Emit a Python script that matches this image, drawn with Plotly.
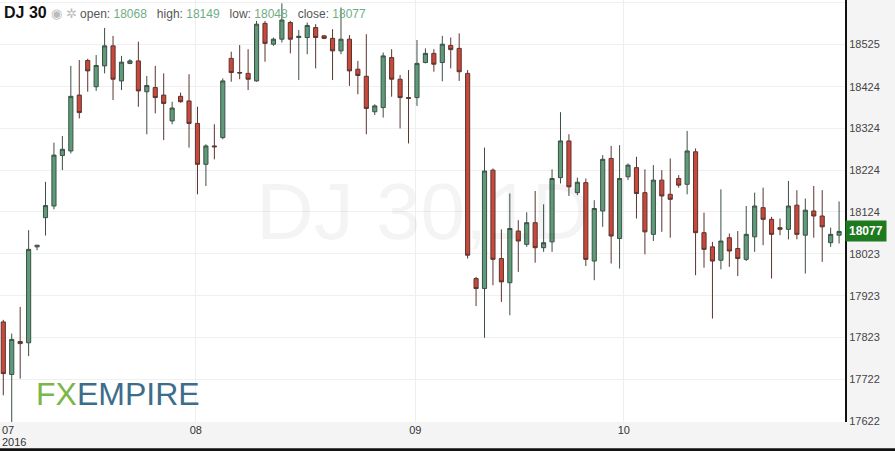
import plotly.graph_objects as go

# DJ 30 candles
opens = [17860, 17734, 17813, 17810, 18040, 18110, 18138, 18259, 18270, 18404,
         18487, 18424, 18474, 18522, 18438, 18480, 18486, 18412, 18422, 18404,
         18342, 18401, 18390, 18336, 18238, 18282, 18302, 18492, 18458, 18456,
         18438, 18576, 18526, 18538, 18578, 18542, 18542, 18566, 18546, 18540,
         18510, 18538, 18466, 18449, 18364, 18374, 18494, 18442, 18398, 18398,
         18482, 18504, 18482, 18523, 18516, 18456, 17964, 17940, 18224, 18012,
         17954, 18078, 18046, 18098, 18038, 18052, 18206, 18294, 18170, 18194,
         18006, 18126, 18252, 18060, 18208, 18230, 18170, 18070, 18200, 18166,
         18204, 18190, 18268, 18074, 18040, 18008, 18062, 18036, 18010, 18064,
         18134, 18106, 18086, 18082, 18140, 18068, 18126, 18114, 18050, 18068]
highs = [17865, 17832, 17896, 18080, 18044, 18196, 18290, 18306, 18474, 18488,
         18491, 18500, 18565, 18546, 18498, 18490, 18532, 18450, 18474, 18456,
         18388, 18410, 18454, 18376, 18286, 18334, 18444, 18508, 18524, 18514,
         18582, 18582, 18542, 18624, 18582, 18560, 18578, 18574, 18548, 18562,
         18614, 18548, 18486, 18550, 18382, 18506, 18514, 18452, 18464, 18536,
         18516, 18514, 18546, 18542, 18552, 18464, 17968, 18278, 18228, 18082,
         18168, 18104, 18123, 18174, 18142, 18226, 18363, 18310, 18206, 18204,
         18152, 18260, 18282, 18284, 18240, 18256, 18226, 18236, 18224, 18252,
         18212, 18318, 18276, 18122, 18052, 18178, 18072, 18078, 18138, 18170,
         18182, 18112, 18108, 18198, 18176, 18156, 18186, 18176, 18086, 18149]
lows = [17684, 17620, 17724, 17778, 18032, 18067, 18130, 18224, 18264, 18348,
        18412, 18414, 18456, 18392, 18416, 18478, 18376, 18310, 18360, 18296,
        18334, 18386, 18278, 18166, 18186, 18250, 18298, 18436, 18442, 18416,
        18436, 18484, 18522, 18530, 18504, 18440, 18502, 18468, 18538, 18440,
        18502, 18426, 18406, 18310, 18356, 18350, 18400, 18324, 18288, 18378,
        18480, 18460, 18437, 18468, 18438, 18012, 17898, 17822, 17948, 17908,
        17876, 17980, 18040, 18002, 18028, 18028, 18192, 18162, 18164, 17994,
        17960, 18088, 18000, 17988, 18200, 18108, 18022, 18054, 18076, 18062,
        18182, 18166, 17972, 17990, 17868, 17986, 17992, 17970, 18006, 18028,
        18044, 17964, 18068, 18058, 18058, 17976, 18062, 18004, 18040, 18048]
closes = [17736, 17818, 17808, 18034, 18044, 18139, 18260, 18274, 18401, 18362,
          18462, 18475, 18522, 18442, 18483, 18486, 18414, 18427, 18398, 18384,
          18373, 18388, 18336, 18238, 18282, 18280, 18438, 18458, 18457, 18442,
          18574, 18528, 18538, 18584, 18538, 18545, 18571, 18542, 18540, 18510,
          18538, 18462, 18451, 18372, 18378, 18498, 18442, 18398, 18396, 18480,
          18504, 18478, 18526, 18513, 18460, 18020, 17940, 18222, 18010, 17956,
          18084, 18054, 18098, 18038, 18050, 18204, 18294, 18184, 18195, 18010,
          18132, 18250, 18066, 18204, 18236, 18168, 18076, 18200, 18162, 18154,
          18188, 18270, 18074, 18034, 18006, 18054, 18030, 18012, 18070, 18138,
          18106, 18070, 18082, 18138, 18070, 18128, 18114, 18088, 18070, 18077]

y_ticks = [17622, 17722, 17823, 17923, 18023, 18124, 18224, 18324, 18424, 18525, 18625]
x_tick_pos = [22.8, 48.8, 73.5]
x_tick_text = ["08", "09", "10"]

x = list(range(len(opens)))

fig = go.Figure(go.Candlestick(
    x=x, open=opens, high=highs, low=lows, close=closes,
    increasing=dict(fillcolor="#5e9b7a", line=dict(color="#3d4f45", width=1)),
    decreasing=dict(fillcolor="#c9483a", line=dict(color="#5a3530", width=1)),
    whiskerwidth=0, showlegend=False, hoverinfo="skip"))

fig.update_layout(
    width=895, height=451,
    margin=dict(l=0, r=50, t=0, b=29),
    paper_bgcolor="#f4f4f4", plot_bgcolor="white",
    font=dict(family="Arial, Liberation Sans, sans-serif", color="#333", size=11),
    xaxis=dict(range=[-0.39, 99.7], rangeslider=dict(visible=False), automargin=False,
               tickvals=x_tick_pos, ticktext=x_tick_text, ticks="",
               showgrid=True, gridcolor="#eeeeee", zeroline=False),
    yaxis=dict(range=[17620, 18632], side="right", tickvals=y_ticks, tickformat="d",
               automargin=False,
               showgrid=True, gridcolor="#f0f0f0", zeroline=False, ticks="",
               showline=True, linecolor="#111", linewidth=2,
               tickfont=dict(size=11, color="#444")),
)

# first date label (two lines)
fig.add_annotation(xref="paper", yref="paper", x=0.0, y=0, yshift=0, xanchor="left", yanchor="top",
                   showarrow=False, text="07", font=dict(size=11, color="#333"))
fig.add_annotation(xref="paper", yref="paper", x=0.0, y=0, yshift=-12, xanchor="left", yanchor="top",
                   showarrow=False, text="2016", font=dict(size=11, color="#333"))

# bottom border
fig.add_shape(type="line", xref="paper", yref="paper", x0=0, x1=1.06, y0=-0.066, y1=-0.066,
              line=dict(color="#111", width=3))

# watermark
fig.add_annotation(xref="paper", yref="paper", x=0.5, y=0.5, text="DJ 30,1D",
                   showarrow=False, font=dict(size=80, color="rgba(0,0,0,0.045)"))

# header
fig.add_annotation(xref="paper", yref="paper", x=0.002, y=0.995, xanchor="left", yanchor="top",
                   showarrow=False,
                   text="<b>DJ 30</b> <span style='color:#bbb;font-size:13px'>◉ ✲</span>"
                        "<span style='font-size:12px;color:#555'> open: <span style='color:#6fae85'>18068</span>"
                        "   high: <span style='color:#6fae85'>18149</span>"
                        "   low: <span style='color:#6fae85'>18048</span>"
                        "   close: <span style='color:#6fae85'>18077</span></span>",
                   font=dict(size=16, color="#111"))

# logo
fig.add_annotation(xref="paper", yref="paper", x=0.04, y=0.02, xanchor="left", yanchor="bottom",
                   showarrow=False,
                   text="<span style='color:#7ab648'>FX</span><span style='color:#3c6e8c'>EMPIRE</span>",
                   font=dict(size=32, family="Arial, Liberation Sans, sans-serif"))

# last price label
fig.add_annotation(xref="paper", yref="y", x=1.0, y=18077, xanchor="left", showarrow=False,
                   text="<b>18077</b>", bgcolor="#1f7a1f", font=dict(color="white", size=12),
                   borderpad=3)

fig.write_html("out.html", config={"displayModeBar": False},
               post_script="document.body.style.margin='0';")
